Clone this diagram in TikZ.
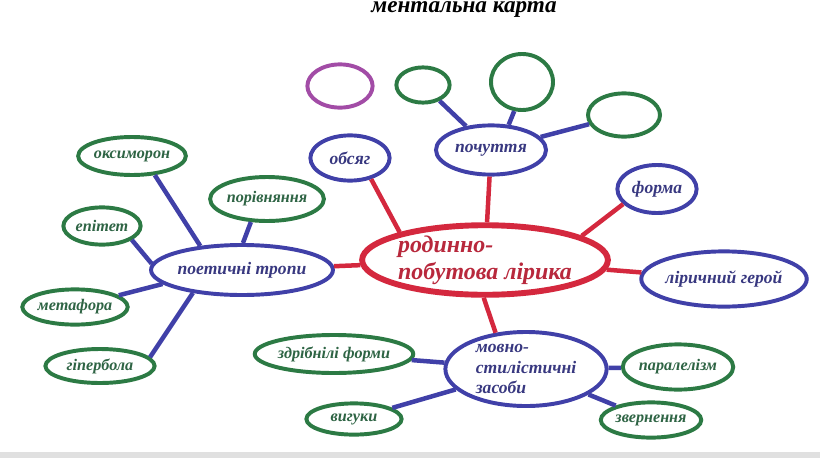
\documentclass[tikz,border=0pt]{standalone}
\usepackage{fontspec}
\setmainfont{Liberation Serif}
\usetikzlibrary{shapes.geometric}
\usetikzlibrary{positioning}
\definecolor{mapred}{HTML}{D4283E}
\definecolor{mapblue}{HTML}{4040A8}
\definecolor{mapgreen}{HTML}{2C7A44}
\definecolor{mappurple}{HTML}{A24CA6}
\definecolor{redtext}{HTML}{B8283C}
\definecolor{bluetext}{HTML}{383880}
\definecolor{greentext}{HTML}{2E6444}
\tikzset{mainnode/.style={shape=ellipse, draw=mapred, line width=4.2pt, inner sep=0pt, text=redtext, font=\fontsize{17}{19.5}\selectfont\bfseries\itshape, align=left},
  topicnode/.style={shape=ellipse, draw=mapblue, line width=2.8pt, inner sep=0pt, text=bluetext, font=\fontsize{12.5}{14.5}\selectfont\bfseries\itshape},
  leafnode/.style={shape=ellipse, draw=mapgreen, line width=2.8pt, inner sep=0pt, text=greentext, font=\fontsize{11.5}{13}\selectfont\bfseries\itshape},
  spare/.style={shape=ellipse, draw=mappurple, line width=2.8pt, inner sep=0pt},
  redlink/.style={draw=mapred, line width=3.2pt},
  bluelink/.style={draw=mapblue, line width=3.2pt}}

\begin{document}
\begin{tikzpicture}[x=0.025cm, y=-0.025cm]
  \useasboundingbox (0,0) rectangle (820,460);
  \fill[white] (0,0) rectangle (820,460);
  \fill[black!12] (0,452) rectangle (820,458);
  \node[anchor=base, font=\fontsize{16.5}{18}\selectfont\bfseries\itshape] (title) at (464,12) {ментальна карта};

  \node[mainnode, minimum width=5.5cm, minimum height=1.45cm] (lyric) at (485,260) {родинно-\\побутова лірика};

  \node[topicnode, minimum width=1.98cm, minimum height=1.13cm] (obsiah) at (350,158) {обсяг};
  \node[topicnode, minimum width=2.75cm, minimum height=1.23cm] (pochuttia) at (491,150) {почуття};
  \node[topicnode, minimum width=1.98cm, minimum height=1.2cm] (forma) at (657,189) {форма};
  \node[topicnode, minimum width=3.68cm, minimum height=1.38cm] (heroi) at (724,279) {ліричний герой};
  \node[topicnode, minimum width=4.03cm, minimum height=1.85cm, align=left] (zasoby) at (526,369) {мовно-\\стилістичні\\засоби};
  \node[topicnode, minimum width=4.08cm, minimum height=1.25cm] (tropy) at (242,270) {поетичні тропи};

  \node[spare, minimum width=1.63cm, minimum height=1.08cm] (extra) at (340,86) {};
  \node[leafnode, minimum width=1.33cm, minimum height=0.88cm] (feel1) at (423,85) {};
  \node[leafnode, minimum width=1.55cm, minimum height=1.4cm] (feel2) at (522,82) {};
  \node[leafnode, minimum width=1.8cm, minimum height=1.08cm] (feel3) at (624,115) {};

  \node[leafnode, minimum width=2.38cm, minimum height=0.95cm] (oksymoron) at (132,156) {оксиморон};
  \node[leafnode, minimum width=2.65cm, minimum height=1.1cm] (porivn) at (267,199) {порівняння};
  \node[leafnode, minimum width=1.93cm, minimum height=0.93cm] (epitet) at (102,226) {епітет};
  \node[leafnode, minimum width=2.5cm, minimum height=0.88cm] (metafora) at (75,307) {метафора};
  \node[leafnode, minimum width=2.73cm, minimum height=0.85cm] (hiperbola) at (100,366) {гіпербола};

  \node[leafnode, minimum width=3.7cm, minimum height=0.95cm] (zdribnili) at (334,354) {здрібнілі форми};
  \node[leafnode, minimum width=2.38cm, minimum height=0.78cm] (vyhuky) at (354,419) {вигуки};
  \node[leafnode, minimum width=2.73cm, minimum height=1.13cm] (paralel) at (678,367) {паралелізм};
  \node[leafnode, minimum width=2.45cm, minimum height=0.88cm] (zvern) at (651,420) {звернення};

  \draw[redlink] (lyric) -- (tropy);
  \draw[redlink] (lyric.162) -- (obsiah.315);
  \draw[redlink] (lyric) -- (pochuttia);
  \draw[redlink] (lyric.14) -- (forma.204);
  \draw[redlink] (lyric) -- (heroi);
  \draw[redlink] (lyric.268) -- (zasoby.130);

  \draw[bluelink] (pochuttia) -- (feel1);
  \draw[bluelink] (pochuttia.55) -- (feel2.255);
  \draw[bluelink] (pochuttia) -- (feel3);

  \draw[bluelink] (tropy.150) -- (oksymoron.320);
  \draw[bluelink] (tropy.88) -- (porivn.235);
  \draw[bluelink] (tropy.176) -- (epitet.335);
  \draw[bluelink] (tropy.190) -- (metafora.15);
  \draw[bluelink] (tropy.205) -- (hiperbola.10);

  \draw[bluelink] (zasoby) -- (zdribnili);
  \draw[bluelink] (zasoby) -- (vyhuky);
  \draw[bluelink] (zasoby) -- (paralel);
  \draw[bluelink] (zasoby) -- (zvern);
\end{tikzpicture}
\end{document}
